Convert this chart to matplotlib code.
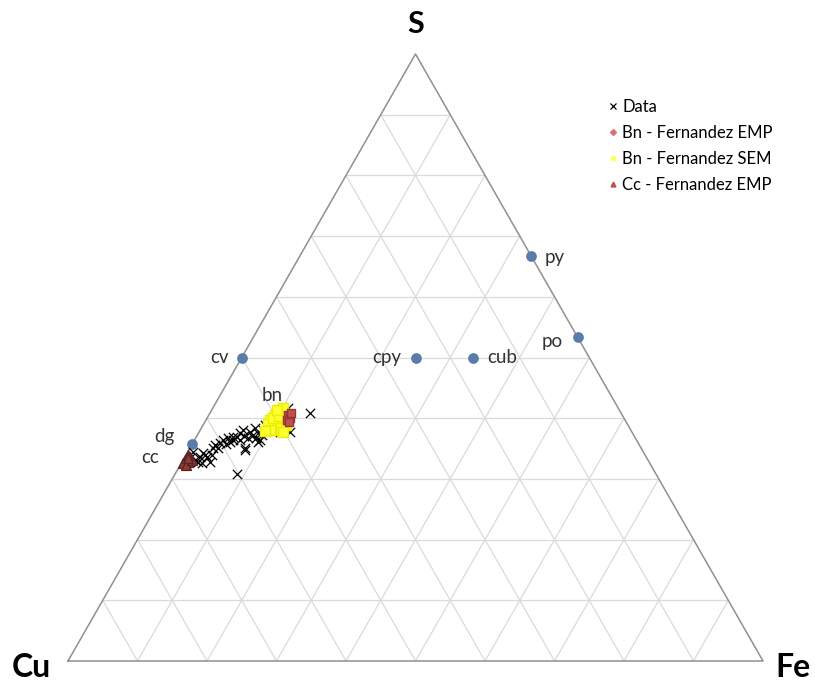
import numpy as np
import matplotlib.pyplot as plt
from matplotlib.lines import Line2D

plt.rcParams['font.family'] = ['Lato', 'DejaVu Sans']

# compositions in % (S, Fe); Cu = 100 - S - Fe
minerals = ['cv', 'cpy', 'cub', 'py', 'po', 'dg', 'cc', 'bn']
mineral_S = [50.0, 50.0, 50.0, 66.7, 53.3, 35.7, 33.3, 40.0]
mineral_Fe = [0.0, 25.0, 33.3, 33.3, 46.7, 0.0, 0.0, 10.0]

data_S = [34.4, 34.3, 33.6, 32.8, 32.6, 35.1, 35.6, 35.1, 36.4, 36.7, 36.4, 36.9,
          36.9, 37.6, 35.1, 34.8, 37.7, 38.4, 37.6, 36.4, 38.1, 38.6, 40.9, 30.8,
          41.7, 37.7, 38.4, 36.1, 38.1, 33.4, 33.1, 32.8, 33.6, 33.9, 37.1, 36.7,
          37.3, 36.7, 38.9, 38.1, 37.9, 37.7, 35.9, 35.7, 36.1, 36.4, 37.1, 33.9]
data_Fe = [0.8, 2.3, 3.2, 4.0, 3.0, 3.3, 3.4, 4.0, 4.1, 4.7, 5.5, 5.9,
           5.3, 6.0, 7.9, 8.1, 7.3, 7.7, 8.6, 9.4, 9.0, 9.4, 14.4, 8.9,
           10.8, 13.1, 12.0, 9.3, 6.2, 0.8, 1.7, 2.3, 2.2, 2.7, 7.9, 7.5,
           9.3, 8.7, 8.9, 10.0, 10.7, 11.6, 3.9, 4.9, 5.3, 6.5, 6.8, 3.8]

bn_sem_S = [39.7, 40.5, 41.0, 41.7, 39.0, 38.6, 40.0, 38.1, 39.0, 38.4, 38.9,
            40.0, 40.4, 38.1, 37.7, 39.7, 41.4, 37.9]
bn_sem_Fe = [9.2, 9.5, 10.0, 10.1, 10.7, 10.1, 11.2, 10.9, 9.3, 11.5, 11.9,
             9.5, 10.2, 10.0, 12.1, 11.7, 9.3, 9.4]

bn_emp_S = [40.5, 40.0, 39.7, 40.9, 39.4]
bn_emp_Fe = [11.4, 11.9, 11.7, 11.7, 12.1]

cc_emp_S = [33.1, 32.8, 32.6, 33.6, 32.3, 33.1, 33.9, 33.4]
cc_emp_Fe = [0.3, 0.9, 0.2, 0.7, 0.8, 1.3, 0.3, 0.5]


def tern(S, Fe):
    S = np.asarray(S) / 100.0
    Fe = np.asarray(Fe) / 100.0
    return Fe + S / 2.0, S


fig = plt.figure(figsize=(8.15, 6.84), dpi=100)
ax = fig.add_axes([0, 0, 1, 1])
ax.set_xlim(-68 / 695, 747 / 695)
ax.set_ylim(-23 / 607, 661 / 607)
ax.axis('off')

# grid
for i in range(1, 10):
    t = i / 10
    ax.plot([t / 2, 1 - t / 2], [t, t], color='#dadada', lw=0.9, zorder=1)
    ax.plot([t, t + (1 - t) / 2], [0, 1 - t], color='#dadada', lw=0.9, zorder=1)
    ax.plot([1 - t, (1 - t) / 2], [0, 1 - t], color='#dadada', lw=0.9, zorder=1)
ax.plot([0, 1, 0.5, 0], [0, 0, 1, 0], color='#909090', lw=1.1, zorder=2)

# data
x, y = tern(data_S, data_Fe)
ax.scatter(x, y, marker='x', s=45, color='black', linewidths=0.9, zorder=4, label='Data')
x, y = tern(bn_sem_S, bn_sem_Fe)
ax.scatter(x, y, marker='s', s=45, color='#ffff33', edgecolors='#eeee00', zorder=5,
           label='Bn - Fernandez SEM')
x, y = tern(bn_emp_S, bn_emp_Fe)
ax.scatter(x, y, marker='s', s=30, color='#c0504d', edgecolors='#943634', zorder=6,
           label='Bn - Fernandez EMP')
x, y = tern(cc_emp_S, cc_emp_Fe)
ax.scatter(x, y, marker='^', s=50, color='#8c3c3a', edgecolors='#5a2322', zorder=6,
           label='Cc - Fernandez EMP')

# minerals
mx, my = tern(mineral_S, mineral_Fe)
ax.scatter(mx[:6], my[:6], s=45, color='#5a7cab', zorder=3)
offsets = {'cv': (-0.018, 0, 'right'), 'cpy': (-0.02, 0, 'right'), 'cub': (0.02, 0, 'left'),
           'py': (0.02, -0.003, 'left'), 'po': (-0.022, -0.007, 'right'),
           'dg': (-0.025, 0.013, 'right'), 'cc': (-0.035, 0.003, 'right'),
           'bn': (-0.006, 0.037, 'center')}
for name, xx, yy in zip(minerals, mx, my):
    dx, dy, ha = offsets[name]
    ax.text(xx + dx, yy + dy, name, ha=ha, va='center', fontsize=13.5, color='#333333', zorder=7)

# corner labels
ax.text(0.5, 1.05, 'S', ha='center', va='center', fontsize=22, fontweight='bold')
ax.text(-0.052, -0.01, 'Cu', ha='center', va='center', fontsize=23, fontweight='bold')
ax.text(1.043, -0.01, 'Fe', ha='center', va='center', fontsize=23, fontweight='bold')

handles = [Line2D([], [], marker='x', ls='', color='black', ms=4, mew=0.9),
           Line2D([], [], marker='D', ls='', color='#e07070', ms=3),
           Line2D([], [], marker='s', ls='', color='#ffff66', ms=3.5),
           Line2D([], [], marker='^', ls='', color='#c0504d', ms=3.5)]
labels = ['Data', 'Bn - Fernandez EMP', 'Bn - Fernandez SEM', 'Cc - Fernandez EMP']
fig.legend(handles, labels, loc='upper left', bbox_to_anchor=(602 / 815, 1 - 92 / 684),
           frameon=False, fontsize=12, handlelength=0.5, handletextpad=0.3,
           labelspacing=0.6, borderaxespad=0)

fig.savefig('out.png', dpi=100)
